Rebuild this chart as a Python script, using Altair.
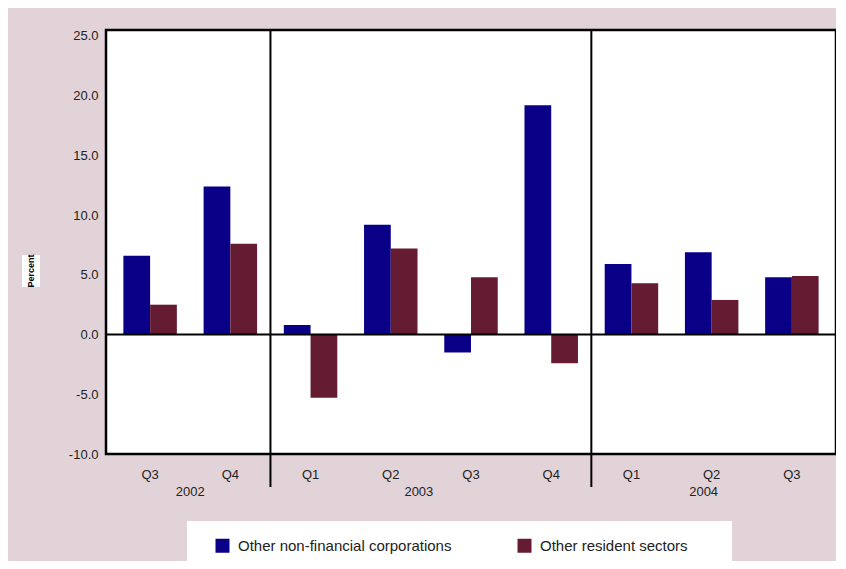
import altair as alt
import pandas as pd

# ---- data ----
years = ["2002", "2002", "2003", "2003", "2003", "2003", "2004", "2004", "2004"]
quarters = ["Q3", "Q4", "Q1", "Q2", "Q3", "Q4", "Q1", "Q2", "Q3"]
nfc = [6.6, 12.4, 0.8, 9.2, -1.5, 19.2, 5.9, 6.9, 4.8]
ors = [2.5, 7.6, -5.3, 7.2, 4.8, -2.4, 4.3, 2.9, 4.9]
series_names = ["Other non-financial corporations", "Other resident sectors"]
colors = ["#0a0088", "#651c33"]
y_ticks = [-10, -5, 0, 5, 10, 15, 20, 25]

keys = [f"{y} {q}" for y, q in zip(years, quarters)]
rows = []
for k, a, b in zip(keys, nfc, ors):
    rows.append({"key": k, "series": series_names[0], "value": a})
    rows.append({"key": k, "series": series_names[1], "value": b})
df = pd.DataFrame(rows)

W, H = 730, 424
FONT = "Liberation Sans"
xscale = alt.Scale(paddingInner=0, paddingOuter=0.05)
xaxis = alt.Axis(labelExpr="split(datum.label, ' ')[1]", labelAngle=0,
                 ticks=False, domain=False, labelPadding=14, labelOverlap=False,
                 labelFontSize=13, labelColor="#222", labelFont=FONT, title=None)

bars = alt.Chart(df).mark_bar().encode(
    x=alt.X("key:N", sort=keys, scale=xscale, title=None, axis=xaxis),
    xOffset=alt.XOffset("series:N", sort=series_names,
                        scale=alt.Scale(paddingOuter=0.5, paddingInner=0)),
    y=alt.Y("value:Q", scale=alt.Scale(domain=[-10, 25.5], nice=False, zero=False),
            title=None,
            axis=alt.Axis(values=y_ticks,
                          labelExpr="datum.value < 0 ? '-' + format(-datum.value, '.1f') : format(datum.value, '.1f')",
                          ticks=False, domain=False,
                          grid=False, labelPadding=8, labelFontSize=13,
                          labelColor="#222", labelFont=FONT)),
    color=alt.Color("series:N", sort=series_names,
                    scale=alt.Scale(domain=series_names, range=colors),
                    legend=alt.Legend(orient="none", legendX=109, legendY=508,
                                      direction="horizontal", title=None,
                                      symbolType="square", symbolSize=196,
                                      symbolStrokeWidth=0, labelFontSize=15,
                                      labelFont=FONT, labelColor="#222",
                                      labelLimit=400,
                                      labelOffset=8, columnPadding=65)),
)

one = pd.DataFrame({"a": [0]})
legend_box = alt.Chart(one).mark_rect(fill="white").encode(
    x=alt.value(81), x2=alt.value(626), y=alt.value(491), y2=alt.value(533))
pct_box = alt.Chart(one).mark_rect(fill="white").encode(
    x=alt.value(-84), x2=alt.value(-66), y=alt.value(225), y2=alt.value(257))
pct_text = alt.Chart(one).mark_text(text="Percent", angle=270, fontSize=9,
                                    fontWeight="bold", font=FONT, color="black",
                                    baseline="middle", align="center").encode(
    x=alt.value(-75), y=alt.value(241))

zero = alt.Chart(pd.DataFrame({"v": [0]})).mark_rule(color="black", strokeWidth=2).encode(
    y=alt.Y("v:Q"))

sep = alt.Chart(pd.DataFrame({"key": ["2003 Q1", "2004 Q1"]})).mark_rule(
    color="black", strokeWidth=2).encode(
    x=alt.X("key:N", sort=keys, scale=xscale, bandPosition=0, axis=xaxis),
    y=alt.value(0), y2=alt.value(H + 33))


def year_label(key, text, pos):
    return alt.Chart(pd.DataFrame({"key": [key], "t": [text]})).mark_text(
        fontSize=13, font=FONT, color="#222", baseline="middle").encode(
        x=alt.X("key:N", sort=keys, scale=xscale, bandPosition=pos, axis=xaxis),
        y=alt.value(H + 38), text="t:N")


chart = alt.layer(
    legend_box, pct_box, pct_text, bars, zero, sep,
    year_label("2002 Q4", "2002", 0.0),
    year_label("2003 Q2", "2003", 0.85),
    year_label("2004 Q2", "2004", 0.4),
).properties(
    width=W, height=H,
    autosize=alt.AutoSizeParams(type="none"),
    padding={"left": 98, "top": 22, "right": 0, "bottom": 107},
    background="#e1d3d8",
).configure_view(stroke="black", strokeWidth=2.5, fill="white")

chart.save("out.html", embed_options={"renderer": "svg", "actions": False})
